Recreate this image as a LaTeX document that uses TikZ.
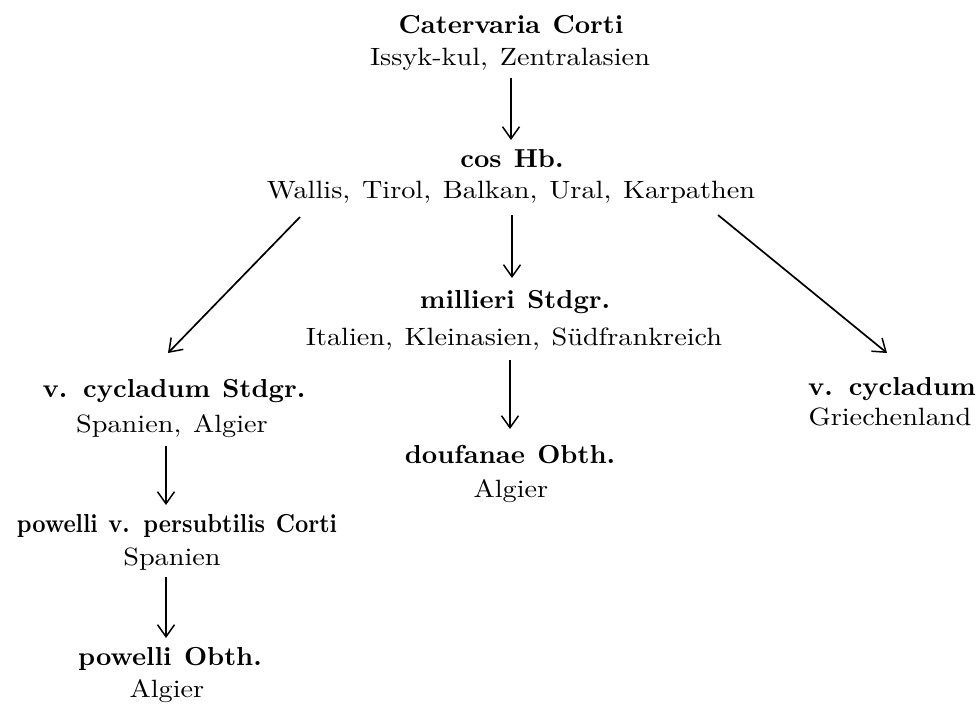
\documentclass[tikz,border=0pt]{standalone}
\usepackage{fontspec}
\usetikzlibrary{arrows.meta}
\newfontfamily\locfont{lmroman10-regular.otf}[FakeStretch=1.13,WordSpace=1.25]
\newfontfamily\namefont{lmroman10-bold.otf}[FakeStretch=1.03,WordSpace=1.2]
\newfontfamily\namefontnarrow{lmroman10-bold.otf}[FakeStretch=0.89,WordSpace=1.2]
\begin{document}
\begin{tikzpicture}[x=1pt,y=-1pt,
  every node/.style={inner sep=0pt, anchor=base, font=\fontsize{25}{30}\locfont},
  nm/.style={font=\fontsize{26}{30}\namefont},
  nmn/.style={font=\fontsize{26}{30}\namefontnarrow},
  arr/.style={line width=1.7pt, -{Straight Barb[length=12pt,width=17pt,line width=1.5pt]}}]
\useasboundingbox (0,0) rectangle (978,704);
% centre column
\node[nm] (n1) at (511,33) {Catervaria Corti};
\node (l1) at (510,65) {Issyk-kul, Zentralasien};
\node[nm] (n2) at (512,167) {cos Hb.};
\node (l2) at (511,198) {Wallis, Tirol, Balkan, Ural, Karpathen};
\node[nm] (n3) at (515,308) {millieri Stdgr.};
\node (l3) at (514,345) {Italien, Kleinasien, Südfrankreich};
\node[nm] (n4) at (510,463) {doufanae Obth.};
\node (l4) at (511,497) {Algier};
% left column
\node[nm] (n5) at (174,397) {v. cycladum Stdgr.};
\node (l5) at (172,432) {Spanien, Algier};
\node[nmn] (n6) at (177,532) {powelli v. persubtilis Corti};
\node (l6) at (172,565) {Spanien};
\node[nm] (n7) at (170,665) {powelli Obth.};
\node (l7) at (167,697) {Algier};
% right column
\node[nm] (n8) at (892,395) {v. cycladum};
\node (l8) at (890,425) {Griechenland};
% connectors
\draw[arr] ([shift={(1,13)}]l1.base) -- ([shift={(-1,-27)}]n2.base);
\draw[arr] ([shift={(1,17)}]l2.base) -- ([shift={(-3,-30)}]n3.base);
\draw[arr] ([shift={(-4,15)}]l3.base) -- ([shift={(0,-34)}]n4.base);
\draw[arr] ([shift={(-211,19)}]l2.base) -- ([shift={(-6,-44)}]n5.base);
\draw[arr] ([shift={(207,17)}]l2.base) -- ([shift={(-5,-42)}]n8.base);
\draw[arr] ([shift={(-6,14)}]l5.base) -- ([shift={(-11,-27)}]n6.base);
\draw[arr] ([shift={(-6,12)}]l6.base) -- ([shift={(-4,-27)}]n7.base);
\end{tikzpicture}
\end{document}
